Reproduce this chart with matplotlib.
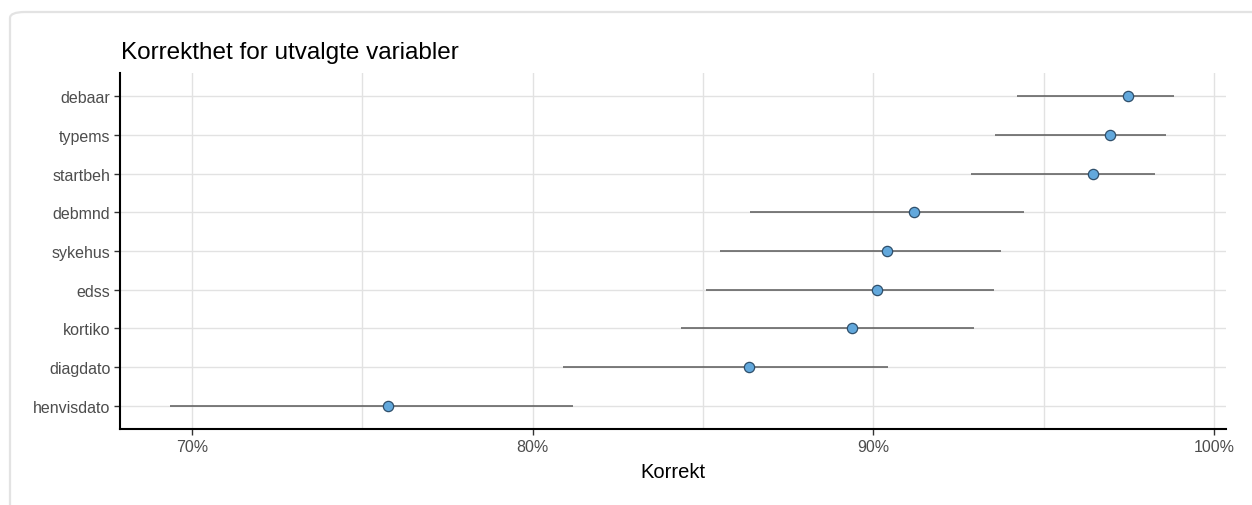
import matplotlib
matplotlib.use("Agg")
import matplotlib.pyplot as plt
from matplotlib.patches import FancyBboxPatch
from matplotlib.ticker import FuncFormatter

plt.rcParams["font.family"] = ["Liberation Sans", "DejaVu Sans"]

# Share of correct values per variable, with confidence interval bounds
variables = ["debaar", "typems", "startbeh", "debmnd", "sykehus",
             "edss", "kortiko", "diagdato", "henvisdato"]
korrekt = [0.9747, 0.9696, 0.9645, 0.9118, 0.9041,
           0.9012, 0.8937, 0.8636, 0.7575]
lower = [0.9423, 0.9357, 0.9288, 0.8637, 0.8550,
         0.8508, 0.8436, 0.8090, 0.6935]
upper = [0.9881, 0.9859, 0.9826, 0.9441, 0.9375,
         0.9354, 0.9294, 0.9044, 0.8118]
x_ticks = [0.70, 0.80, 0.90, 1.00]

W, H = 1252, 506
fig = plt.figure(figsize=(W / 100, H / 100), dpi=100)
fig.patch.set_facecolor("white")

# Card outline around the chart (only its top and left edges fall inside)
card = FancyBboxPatch((10 / W, -0.5), 3.0, (H - 13) / H + 0.5,
                      boxstyle="round,pad=0,rounding_size=0.012",
                      transform=fig.transFigure, facecolor="none",
                      edgecolor="#e3e3e3", linewidth=1.6, zorder=-5)
fig.patches.append(card)

left, right = 120 / W, 1226 / W
bottom, top = 1 - 430 / H, 1 - 74 / H
ax = fig.add_axes([left, bottom, right - left, top - bottom])
ax.set_facecolor("none")
ax.set_zorder(2)

n = len(variables)
ypos = [n - i for i in range(n)]

ax.hlines(ypos, lower, upper, color="#5a5a5a", linewidth=1.1, zorder=3)
ax.plot(korrekt, ypos, linestyle="none", marker="o", markersize=7.4,
        markerfacecolor="#62a8dc", markeredgecolor="#2f4f6b",
        markeredgewidth=0.9, zorder=4)

ax.set_xlim(0.6789, 1.0035)
ax.set_ylim(0.4, n + 0.6)
ax.set_yticks(ypos)
ax.set_yticklabels(variables)
ax.set_xticks(x_ticks)
ax.xaxis.set_major_formatter(FuncFormatter(lambda v, p: f"{v * 100:.0f}%"))
ax.set_xticks([0.75, 0.85, 0.95], minor=True)

ax.grid(True, which="both", axis="x", color="#e2e2e2", linewidth=1.0, zorder=0)
ax.grid(True, which="major", axis="y", color="#e2e2e2", linewidth=1.0, zorder=0)
ax.set_axisbelow(True)
ax.tick_params(axis="x", which="minor", length=0)
ax.tick_params(axis="both", which="major", length=4, width=1.0,
               color="#333333", labelsize=11.5, labelcolor="#4d4d4d", pad=3)

for side in ("top", "right"):
    ax.spines[side].set_visible(False)
for side in ("left", "bottom"):
    ax.spines[side].set_linewidth(1.5)
    ax.spines[side].set_color("black")

ax.set_xlabel("Korrekt", fontsize=14.5, color="black", labelpad=6)
fig.text(121 / W, 1 - 53 / H, "Korrekthet for utvalgte variabler",
         fontsize=17.5, color="black", ha="left", va="center")

fig.savefig("out.png", dpi=100, facecolor="white")
